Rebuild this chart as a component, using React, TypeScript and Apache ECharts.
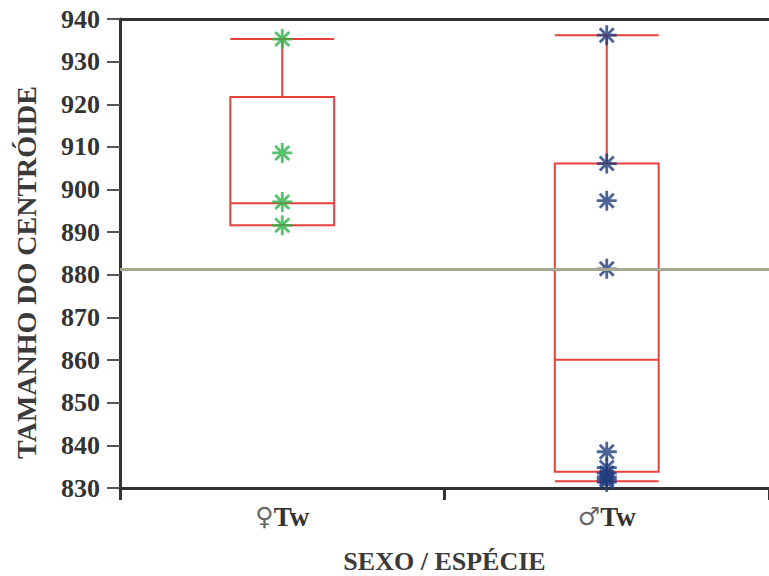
import React, { useEffect, useRef } from "react";
import * as echarts from "echarts";

const categories = ["♀Tw", "♂Tw"];
// [min, Q1, median, Q3, max]
const boxFemale = [891.6, 891.6, 896.8, 921.7, 935.3];
const boxMale = [831.6, 833.8, 860.1, 906.1, 936.2];
const pointsFemale = [935.3, 908.6, 897.1, 891.6];
const pointsMale = [936.2, 906.1, 897.4, 881.4, 838.5, 834.8, 833.5, 832.6, 832.0, 831.4];
const referenceValue = 881.2;
const yTicks = { min: 830, max: 940, interval: 10 };

const STAR =
  "path://M0,8.6 L20,8.6 L20,11.4 L0,11.4 Z M8.6,0 L11.4,0 L11.4,20 L8.6,20 Z M2,4 L4,2 L18,16 L16,18 Z M16,2 L18,4 L4,18 L2,16 Z";

export default function App() {
  const ref = useRef<HTMLDivElement>(null);
  useEffect(() => {
    if (!ref.current) return;
    const chart = echarts.init(ref.current, undefined, { renderer: "svg" });
    const serif = "'Liberation Serif', 'DejaVu Serif', serif";
    chart.setOption({
      animation: false,
      backgroundColor: "#ffffff",
      grid: { left: 120, right: 0, top: 19, bottom: 88, outerBoundsMode: "none", containLabel: false },
      xAxis: [
        {
          type: "category",
          data: categories,
          name: "SEXO / ESPÉCIE",
          nameLocation: "middle",
          nameGap: 60,
          nameTextStyle: { fontFamily: serif, fontWeight: "bold", fontSize: 26, color: "#3a3a3a" },
          axisLine: { lineStyle: { color: "#333", width: 3 } },
          axisTick: { show: true, length: 12, lineStyle: { color: "#333", width: 3 } },
          axisLabel: {
            margin: 15,
            formatter: (v: string) => `{s|${v[0]}}{t|${v.slice(1)}}`,
            rich: {
              s: { fontFamily: "'DejaVu Sans', sans-serif", fontSize: 25, color: "#666" },
              t: { fontFamily: serif, fontWeight: "bold", fontSize: 27, color: "#333" },
            },
          },
          splitLine: { show: false },
        },
        {
          type: "category",
          data: categories,
          position: "top",
          axisLine: { lineStyle: { color: "#333", width: 3 } },
          axisTick: { show: false },
          axisLabel: { show: false },
        },
      ],
      yAxis: {
        type: "value",
        min: yTicks.min,
        max: yTicks.max,
        interval: yTicks.interval,
        name: "TAMANHO DO CENTRÓIDE",
        nameLocation: "middle",
        nameGap: 80,
        nameTextStyle: {
          fontFamily: serif,
          fontWeight: "bold",
          fontSize: 28,
          color: "#3a3a3a",
          padding: [0, 38, 0, 0],
        },
        axisLine: { show: true, lineStyle: { color: "#333", width: 3 } },
        axisTick: { show: true, length: 13, lineStyle: { color: "#555", width: 2 } },
        axisLabel: { margin: 20, fontFamily: serif, fontWeight: "bold", fontSize: 26, color: "#333" },
        splitLine: { show: false },
      },
      series: [
        {
          type: "boxplot",
          data: [boxFemale, boxMale],
          boxWidth: ["32%", "32%"],
          itemStyle: { color: "transparent", borderColor: "#e8403a", borderWidth: 2 },
          markLine: {
            silent: true,
            symbol: "none",
            label: { show: false },
            lineStyle: { color: "#a8a890", width: 3, type: "solid" },
            data: [{ yAxis: referenceValue }],
          },
          z: 2,
        },
        {
          type: "scatter",
          data: pointsFemale.map((v) => [0, v]),
          symbol: STAR,
          symbolSize: 20,
          itemStyle: { color: "#2db34a" },
          z: 3,
        },
        {
          type: "scatter",
          data: pointsMale.map((v) => [1, v]),
          symbol: STAR,
          symbolSize: 20,
          itemStyle: { color: "#1f3c7e" },
          z: 3,
        },
      ],
    });
    return () => chart.dispose();
  }, []);
  return <div ref={ref} style={{ width: 769, height: 576, position: "absolute", left: 0, top: 0 }} />;
}
